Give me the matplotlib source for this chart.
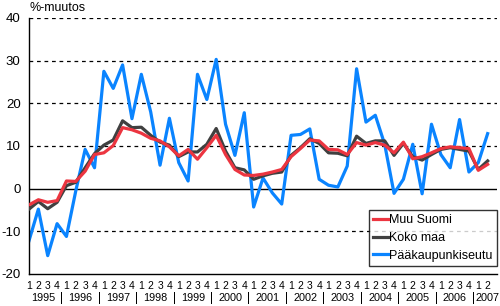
import numpy as np
import matplotlib
matplotlib.use('Agg')
import matplotlib.pyplot as plt
import matplotlib.transforms as mtransforms

plt.rcParams['font.family'] = ['Liberation Sans', 'DejaVu Sans']
plt.rcParams['axes.unicode_minus'] = False

# quarterly data 1995 Q1 - 2007 Q2
years = ['1995', '1996', '1997', '1998', '1999', '2000', '2001',
         '2002', '2003', '2004', '2005', '2006', '2007']
quarters = ['1', '2', '3', '4'] * 12 + ['1', '2']

muu_suomi = [-3.8, -2.6, -3.2, -2.8, 1.8, 1.7, 4.1, 8.0, 8.4, 10.1,
             14.3, 13.8, 13.0, 11.8, 11.2, 9.8, 7.7, 9.2, 6.9, 9.6,
             12.5, 8.0, 4.5, 3.2, 3.1, 3.4, 3.9, 4.5, 7.5, 9.4,
             11.4, 11.2, 9.2, 9.1, 8.0, 10.8, 10.2, 10.8, 10.2, 8.4,
             10.9, 7.0, 7.5, 8.4, 9.4, 9.8, 9.6, 9.4, 4.3, 5.7]
koko_maa = [-4.8, -3.0, -4.7, -3.2, 0.7, 1.5, 4.9, 8.2, 10.2, 11.4,
            15.9, 14.3, 14.4, 12.5, 10.9, 10.2, 7.5, 8.6, 8.6, 10.4,
            14.1, 8.8, 4.9, 4.4, 2.2, 3.0, 3.6, 3.9, 7.8, 9.6,
            11.7, 10.6, 8.4, 8.3, 7.7, 12.3, 10.6, 11.2, 11.2, 7.8,
            10.6, 7.5, 6.7, 8.0, 9.2, 9.6, 9.2, 8.8, 4.5, 6.5]
paakaupunkiseutu = [-12.2, -4.8, -15.7, -8.2, -11.2, -0.5, 9.2, 4.9, 27.5, 23.5,
                    29.0, 16.4, 26.8, 18.0, 5.5, 16.5, 6.1, 1.8, 26.8, 20.9,
                    30.3, 15.1, 7.8, 17.8, -4.3, 2.5, -1.0, -3.6, 12.5, 12.7,
                    14.0, 2.2, 0.8, 0.4, 5.3, 28.1, 15.6, 17.2, 10.4, -1.1,
                    2.2, 10.4, -1.2, 15.1, 8.0, 4.9, 16.2, 3.9, 6.1, 12.9]

x = np.arange(len(quarters))

fig = plt.figure(figsize=(5, 3.06), dpi=100)
ax = fig.add_axes([0.058, 0.1046, 0.936, 0.8366])

# grid
for v in [-10, 10, 20, 30, 40]:
    ax.axhline(v, color='black', lw=0.9, ls=(0, (3, 3)), zorder=0)
ax.axhline(0, color='black', lw=1.0, zorder=0)

lw = 2.3
ax.plot(x, paakaupunkiseutu, color='#0a84ff', lw=lw, label='Pääkaupunkiseutu', zorder=2)
ax.plot(x, koko_maa, color='#404040', lw=lw, label='Koko maa', zorder=3)
ax.plot(x, muu_suomi, color='#ec3540', lw=lw, label='Muu Suomi', zorder=4)

ax.set_xlim(0, 50)
ax.set_ylim(-20, 40)
ax.set_yticks([-20, -10, 0, 10, 20, 30, 40])
ax.tick_params(axis='y', length=0, pad=6, labelsize=9.5)
ax.set_xticks(x)
ax.set_xticklabels(quarters)
ax.tick_params(axis='x', length=0, pad=5, labelsize=7.5)

for s in ['top', 'right']:
    ax.spines[s].set_visible(False)
for s in ['left', 'bottom']:
    ax.spines[s].set_linewidth(1.0)

# year row
trans = mtransforms.blended_transform_factory(ax.transData, ax.transAxes)
for k, yr in enumerate(years):
    if yr == '2007':
        ax.text(47.75, -0.095, yr, transform=trans, ha='left', va='center', fontsize=7.8)
    else:
        ax.text(4 * k + 1.5, -0.095, yr, transform=trans, ha='center', va='center', fontsize=7.8)
    if k > 0:
        ax.text(4 * k - 0.5, -0.095, '|', transform=trans, ha='center', va='center', fontsize=8.5)

fig.text(0.058, 0.974, '%-muutos', ha='left', va='center', fontsize=9)

handles, labels = ax.get_legend_handles_labels()
leg = ax.legend(handles[::-1], labels[::-1], loc='lower right', bbox_to_anchor=(1.0, 0.031),
                fontsize=9, frameon=True, fancybox=False, handlelength=1.2,
                handletextpad=0.1, labelspacing=0.45, borderpad=0.35, borderaxespad=0)
leg.get_frame().set_edgecolor('black')
leg.get_frame().set_linewidth(1.0)

fig.savefig('out.png', dpi=100)
